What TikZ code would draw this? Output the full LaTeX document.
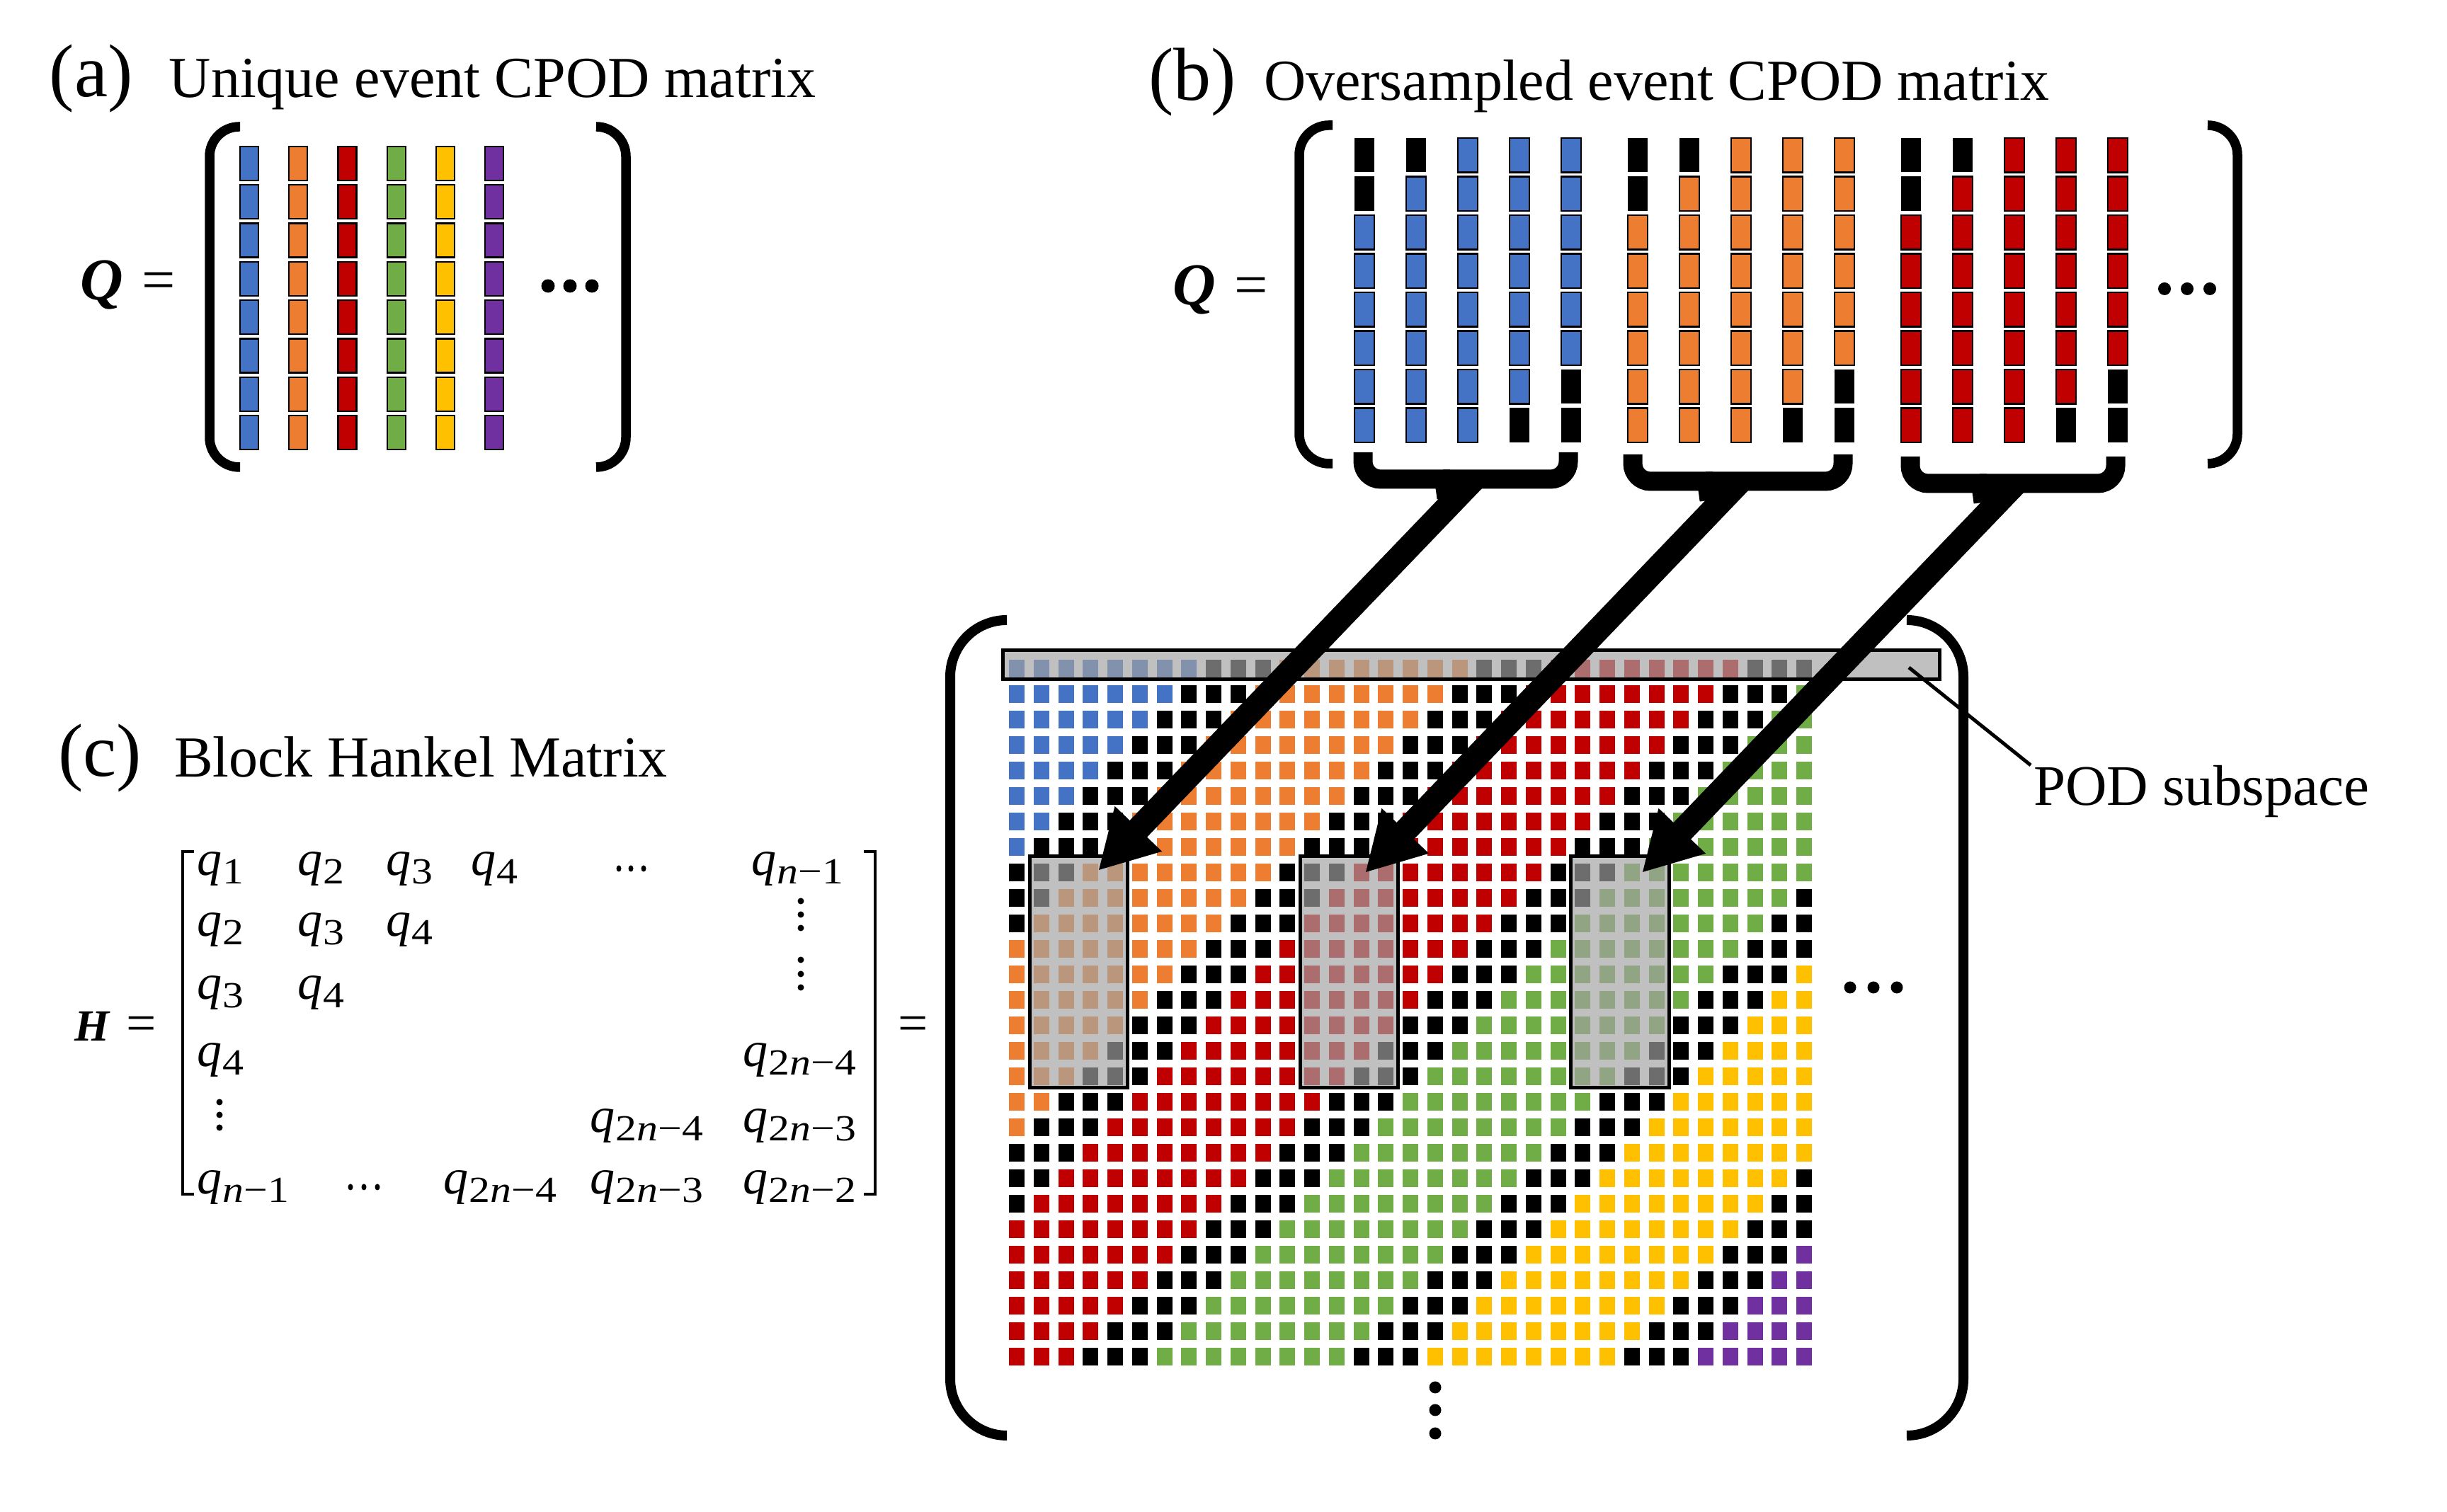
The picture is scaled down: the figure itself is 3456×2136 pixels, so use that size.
\documentclass[tikz,border=0pt]{standalone}
\usepackage{fontspec}
\setmainfont{Liberation Serif}
\usetikzlibrary{arrows.meta}
\definecolor{c0}{HTML}{4472C4}
\definecolor{c1}{HTML}{ED7D31}
\definecolor{c2}{HTML}{C00000}
\definecolor{c3}{HTML}{70AD47}
\definecolor{c4}{HTML}{FFC000}
\definecolor{c5}{HTML}{7030A0}
\definecolor{ovgray}{RGB}{162,162,162}
\newcommand\qq[1]{\textit{q}\kern0.15pt\raisebox{-1.2pt}{\scalebox{1.15}[1]{\fontsize{5.2pt}{5.5pt}\selectfont #1}}}
\newcommand\nn{\textit{n}}
\begin{document}
\begin{tikzpicture}[x=0.1pt,y=-0.1pt,
  bigbracket/.style={line width=1.4pt, rounded corners=8pt},
  smallbracket/.style={line width=1.35pt, rounded corners=4.2pt},
  cellbox/.style={draw=black, line width=0.22pt},
  hilite/.style={draw=black, line width=0.5pt, fill=ovgray, fill opacity=0.68},
  bigarrow/.style={line width=3.4pt, -{Triangle[length=8.2pt,width=8.6pt]}},
  bracebar/.style={line width=2.7pt, rounded corners=2.5pt},
  title/.style={anchor=base west, inner sep=0, font=\fontsize{8.2pt}{9pt}\selectfont},
  tag/.style={anchor=base west, inner sep=0, font=\fontsize{10.6pt}{12pt}\selectfont},
  ent/.style={anchor=base west, inner sep=0, font=\fontsize{7pt}{7.5pt}\selectfont},
  bigdot/.style={fill=black, draw=none},
]
\useasboundingbox (0,0) rectangle (3456,2136);

% ---------- titles ----------
\node[tag] (ta) at (68,137) {(a)};
\node[title] (tta) at (237,138) {Unique event CPOD matrix};
\node[tag] (tb) at (1620,142) {(b)};
\node[title] (ttb) at (1783,142) {Oversampled event CPOD matrix};
\node[tag] (tc) at (80,1097) {(c)};
\node[title] (ttc) at (244,1098) {Block Hankel Matrix};

% ---------- panel (a) ----------
\node[anchor=base west, inner sep=0, font=\fontsize{8.4pt}{9pt}\selectfont\bfseries\itshape] (qa) at (111,424) {Q};
\node[anchor=base west, inner sep=0, font=\fontsize{8.4pt}{9pt}\selectfont] (eqa) at (199,424) {=};
\draw[smallbracket] (339,179) -- (296,179) -- (296,660) -- (339,660);
\draw[smallbracket] (842,179) -- (884,179) -- (884,660) -- (842,660);
\foreach \c in {0,...,5}{
  \foreach \j in {0,...,7}{
    \filldraw[fill=c\c, cellbox] (339+69.2*\c, 207+54.3*\j) rectangle ++(26,48);
  }
}
\foreach \x in {774,805,836}{ \fill[bigdot] (\x,404) circle[radius=9.5]; }

% ---------- panel (b) ----------
\node[anchor=base west, inner sep=0, font=\fontsize{8.4pt}{9pt}\selectfont\bfseries\itshape] (qb) at (1654,431) {Q};
\node[anchor=base west, inner sep=0, font=\fontsize{8.4pt}{9pt}\selectfont] (eqb) at (1741,431) {=};
\draw[smallbracket] (1882,177) -- (1835,177) -- (1835,655) -- (1882,655);
\draw[smallbracket] (3118,177) -- (3160,177) -- (3160,655) -- (3118,655);
\foreach \g in {0,1,2}{
  \foreach \c in {0,...,4}{
    \foreach \j in {0,...,7}{
      \pgfmathsetmacro\xl{1913+73*\c+386*\g}
      \pgfmathsetmacro\yt{195+54.5*\j}
      \pgfmathtruncatemacro\isblk{((\c==0)&&(\j<2))||((\c==1)&&(\j==0))||((\c==3)&&(\j==7))||((\c==4)&&(\j>5))}
      \ifnum\isblk=1
        \fill[black] (\xl,\yt) rectangle ++(28,48.5);
      \else
        \filldraw[fill=c\g, cellbox] (\xl,\yt) rectangle ++(28,48.5);
      \fi
    }
  }
}
\foreach \x in {3057,3089,3121}{ \fill[bigdot] (\x,408) circle[radius=9]; }

% braces
\draw[bracebar] (1925,639) -- (1925,677) -- (2023,677) .. controls (2037,677) and (2041,685) .. (2043,704);
\draw[bracebar] (2215,639) -- (2215,677) -- (2063,677) .. controls (2049,677) and (2045,685) .. (2043,704);
\draw[bracebar] (2306,642) -- (2306,680) -- (2394,680) .. controls (2408,680) and (2412,688) .. (2414,707);
\draw[bracebar] (2603,642) -- (2603,680) -- (2434,680) .. controls (2420,680) and (2416,688) .. (2414,707);
\draw[bracebar] (2698,645) -- (2698,683) -- (2781,683) .. controls (2795,683) and (2799,691) .. (2801,710);
\draw[bracebar] (2988,645) -- (2988,683) -- (2821,683) .. controls (2807,683) and (2803,691) .. (2801,710);

% ---------- panel (c) ----------
\node[anchor=base west, inner sep=0, font=\fontsize{6.3pt}{7pt}\selectfont\bfseries\itshape] (hh) at (103,1471) {H};
\node[anchor=base west, inner sep=0, font=\fontsize{7.5pt}{8pt}\selectfont] (eqh) at (177,1471) {=};
\draw[line width=0.45pt] (274,1203) -- (258,1203) -- (258,1687) -- (274,1687);
\draw[line width=0.45pt] (1220,1203) -- (1236,1203) -- (1236,1687) -- (1220,1687);
\node[anchor=base west, inner sep=0, font=\fontsize{7.5pt}{8pt}\selectfont] (eqr) at (1266,1471) {=};

\node[ent] (e11) at (276,1237) {\qq{1}};
\node[ent] (e12) at (418,1237) {\qq{2}};
\node[ent] (e13) at (543,1237) {\qq{3}};
\node[ent] (e14) at (663,1237) {\qq{4}};
\node[ent] (e16) at (1059,1237) {\qq{\nn−1}};
\node[ent] (e21) at (276,1323) {\qq{2}};
\node[ent] (e22) at (418,1323) {\qq{3}};
\node[ent] (e23) at (543,1323) {\qq{4}};
\node[ent] (e31) at (276,1412) {\qq{3}};
\node[ent] (e32) at (418,1412) {\qq{4}};
\node[ent] (e41) at (276,1507) {\qq{4}};
\node[ent] (e46) at (1047,1507) {\qq{2\nn−4}};
\node[ent] (e55) at (831,1600) {\qq{2\nn−4}};
\node[ent] (e56) at (1047,1600) {\qq{2\nn−3}};
\node[ent] (e61) at (276,1687) {\qq{\nn−1}};
\node[ent] (e64) at (624,1687) {\qq{2\nn−4}};
\node[ent] (e65) at (831,1687) {\qq{2\nn−3}};
\node[ent] (e66) at (1047,1687) {\qq{2\nn−2}};
\foreach \x in {874,891,909}{ \fill (\x,1227) ellipse[x radius=3.5, y radius=4.5]; }
\foreach \x in {495,514,533}{ \fill (\x,1677) ellipse[x radius=3.5, y radius=4.5]; }
\foreach \y in {1273,1292,1311,1356,1376,1395}{ \fill (1131,\y) circle[radius=4.5]; }
\foreach \y in {1557,1575,1593}{ \fill (310,\y) circle[radius=4.5]; }

% ---------- Hankel grid ----------
\draw[bigbracket] (1422,876) -- (1342,876) -- (1342,2028) -- (1422,2028);
\draw[bigbracket] (2694,876) -- (2773,876) -- (2773,2028) -- (2694,2028);
\foreach \r in {0,...,27}{
  \foreach \c in {1,...,33}{
    \pgfmathtruncatemacro\k{\r+\c-1}
    \pgfmathtruncatemacro\g{floor(\k/11)}
    \pgfmathtruncatemacro\m{mod(\k,11)}
    \ifnum\m>7 \def\col{black}\else\def\col{c\g}\fi
    \pgfmathsetmacro\xx{1436+(\c-1)*34.75}
    \pgfmathsetmacro\yy{944.5+\r*36}
    \fill[fill=\col] (\xx-11,\yy-12.5) rectangle ++(22,25);
  }
}
\draw[hilite] (1416,919) rectangle (2739,960);
\draw[hilite] (1454,1210) rectangle (1592,1537);
\draw[hilite] (1836,1210) rectangle (1974,1537);
\draw[hilite] (2218,1210) rectangle (2357,1537);
\foreach \x in {2613,2646,2679}{ \fill[bigdot] (\x,1395) circle[radius=8.5]; }
\foreach \y in {1960,1992,2025}{ \fill[bigdot] (2027,\y) circle[radius=8.5]; }

% POD subspace
\coordinate (podin) at (2696,943);
\node[anchor=base west, inner sep=0, font=\fontsize{8.1pt}{9pt}\selectfont] (pod) at (2870,1138) {POD subspace};
\coordinate (podout) at (2868,1081);
\draw[line width=0.5pt] (podin) -- (podout);

% arrows
\coordinate (s1) at (2082,677); \coordinate (t1) at (1551,1230);
\coordinate (s2) at (2458,680); \coordinate (t2) at (1928,1233);
\coordinate (s3) at (2847,683); \coordinate (t3) at (2319,1233);
\draw[bigarrow] (s1) -- (t1);
\draw[bigarrow] (s2) -- (t2);
\draw[bigarrow] (s3) -- (t3);
\end{tikzpicture}
\end{document}
